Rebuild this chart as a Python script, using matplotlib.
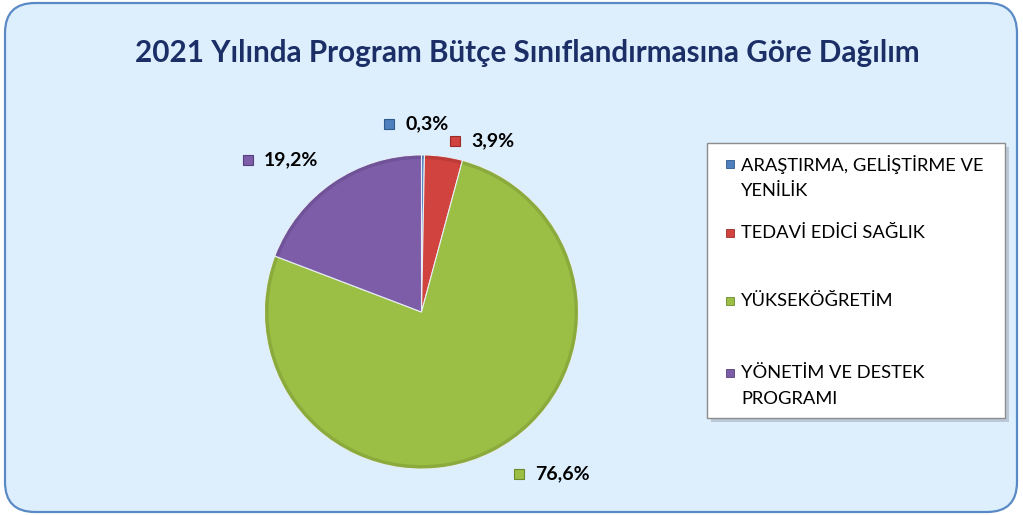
import matplotlib.pyplot as plt
from matplotlib.patches import FancyBboxPatch, Rectangle, Wedge

# Program bütçe sınıflandırması, 2021 payları (%)
kategoriler = ["ARAŞTIRMA, GELİŞTİRME VE\nYENİLİK", "TEDAVİ EDİCİ SAĞLIK",
               "YÜKSEKÖĞRETİM", "YÖNETİM VE DESTEK\nPROGRAMI"]
paylar = [0.3, 3.9, 76.6, 19.2]
etiketler = ["0,3%", "3,9%", "76,6%", "19,2%"]

renkler = ["#4F7FBD", "#D0433E", "#9BBE45", "#7D5DA8"]
kenar_renk = ["#2E5A8E", "#9A2C28", "#6D8A2C", "#573E7C"]

W, H = 1023, 515
fig = plt.figure(figsize=(W / 100, H / 100), dpi=100)
plt.rcParams['font.family'] = ['Lato', 'DejaVu Sans']

# arka plan çerçevesi
bg = fig.add_axes([0, 0, 1, 1])
bg.set_xlim(0, W)
bg.set_ylim(0, H)
bg.axis('off')
bg.add_patch(FancyBboxPatch((5, 3), W - 11, H - 6, boxstyle="round,pad=0,rounding_size=30",
                            facecolor="#DDEEFD", edgecolor="#5A8AC6", linewidth=1.6))

fig.text(527 / W, 1 - 53 / H, "2021 Yılında Program Bütçe Sınıflandırmasına Göre Dağılım",
         ha='center', va='center', fontsize=21.3, fontweight='bold', color="#1B2F66")

# pasta grafiği: merkez (421, 312) px, yarıçap 157 px
r_px = 157
half = 200
cx, cy = 421.5, H - 312
ax = fig.add_axes([(cx - half) / W, (cy - half) / H, 2 * half / W, 2 * half / H])
lim = half / r_px
wedges, _ = ax.pie(paylar, colors=renkler, startangle=90, counterclock=False,
                   radius=1, wedgeprops=dict(edgecolor="#E8EEF4", linewidth=0.8))
# dilimlerin dış kenarına koyu bir hat (kabartma etkisi)
for w, ec in zip(wedges, kenar_renk):
    ax.add_patch(Wedge(w.center, 0.997, w.theta1 + 0.3, w.theta2 - 0.3, width=0.022,
                       facecolor=ec, edgecolor='none', alpha=0.35))
ax.set_xlim(-lim, lim)
ax.set_ylim(-lim, lim)

# yüzde etiketleri (işaret kutusu + metin), konumlar px cinsinden
etiket_konum = [(389, 124), (455, 141), (519, 474), (248, 160)]
for (px, py), lab, c, ec in zip(etiket_konum, etiketler, renkler, kenar_renk):
    fig.add_artist(Rectangle(((px - 5) / W, (H - py - 5) / H), 10 / W, 10 / H,
                             transform=fig.transFigure, facecolor=c, edgecolor=ec, linewidth=0.8))
    fig.text((px + 16) / W, 1 - py / H, lab, ha='left', va='center',
             fontsize=14, fontweight='bold', color="black")

# lejant kutusu
bg.add_patch(Rectangle((711, H - 422), 298, 275, facecolor="#9AA5B2", edgecolor='none', alpha=0.5))
bg.add_patch(Rectangle((707, H - 418), 298, 275, facecolor="white", edgecolor="#8C8C8C", linewidth=1))
lejant_y = [177, 233, 301, 386]
for ly, lab, c, ec in zip(lejant_y, kategoriler, renkler, kenar_renk):
    ilk = ly - 13 if '\n' in lab else ly
    bg.add_patch(Rectangle((726, H - ilk - 4), 8, 8, facecolor=c, edgecolor=ec, linewidth=0.6))
    bg.text(741, H - ly, lab, ha='left', va='center', fontsize=13.2,
            color="black", linespacing=1.7)

fig.savefig("out.png", dpi=100)
